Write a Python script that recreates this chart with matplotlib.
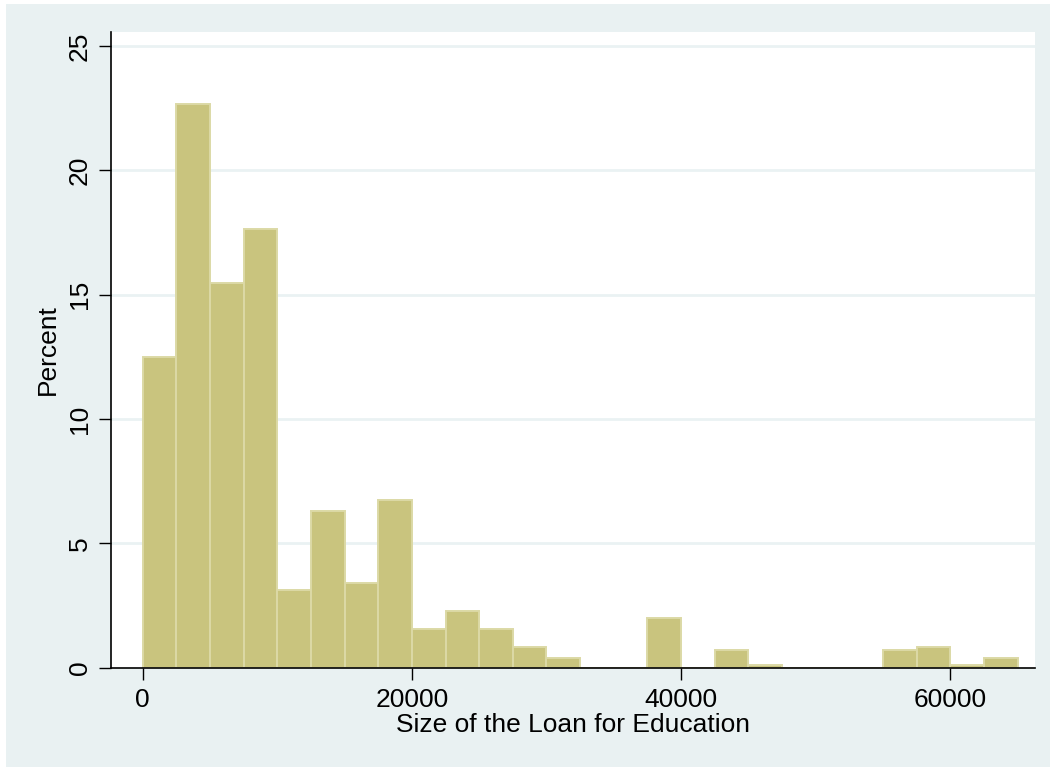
import numpy as np
import matplotlib
matplotlib.use("Agg")
import matplotlib.pyplot as plt
from matplotlib.patches import Rectangle

# histogram of loan size, 26 bins of width 2500 starting at 0
bin_start = 0
bin_width = 2500
percent = [12.49, 22.66, 15.49, 17.63, 3.14, 6.30, 3.42, 6.75, 1.57, 2.28,
           1.55, 0.83, 0.39, 0.0, 0.0, 2.00, 0.0, 0.70, 0.12, 0.0,
           0.0, 0.0, 0.70, 0.83, 0.12, 0.39]
x_ticks = [0, 20000, 40000, 60000]
y_ticks = [0, 5, 10, 15, 20, 25]

edges = bin_start + bin_width * np.arange(len(percent) + 1)
centers = (edges[:-1] + edges[1:]) / 2

plt.rcParams['font.family'] = ['Liberation Sans', 'DejaVu Sans']

bg = '#E9F1F2'
fig = plt.figure(figsize=(10.5, 7.67), dpi=100, facecolor='white')
# stata-like graph region, small white margin on the left and top
fig.add_artist(Rectangle((6 / 1050, 0), 1, 1 - 4 / 767, transform=fig.transFigure,
                         facecolor=bg, edgecolor='none', zorder=-10))

ax = fig.add_axes([0.1054, 0.1295, 0.986 - 0.1054, 0.9587 - 0.1295])
ax.set_facecolor('white')

ax.hist(centers, bins=edges, weights=percent, color='#C9C47E',
        edgecolor='#DCD9A6', linewidth=1.4, zorder=3)

ax.set_xlim(-2377, 66315)
ax.set_ylim(0, 25.58)
ax.set_xticks(x_ticks)
ax.set_yticks(y_ticks)
ax.set_yticklabels([str(t) for t in y_ticks], rotation=90, va='center')

for y in y_ticks[1:]:
    ax.axhline(y, color='#EAF2F3', linewidth=2, zorder=1)

for s in ['top', 'right']:
    ax.spines[s].set_visible(False)
for s in ['left', 'bottom']:
    ax.spines[s].set_color('black')
    ax.spines[s].set_linewidth(1.2)
    ax.spines[s].set_zorder(4)

ax.tick_params(axis='both', length=8.5, width=1, color='black', labelsize=19, pad=5)
ax.tick_params(axis='x', pad=6)

ax.set_xlabel('Size of the Loan for Education', fontsize=19, labelpad=1)
ax.set_ylabel('Percent', fontsize=19, labelpad=6)

fig.savefig('out.png', dpi=100, facecolor=fig.get_facecolor())
